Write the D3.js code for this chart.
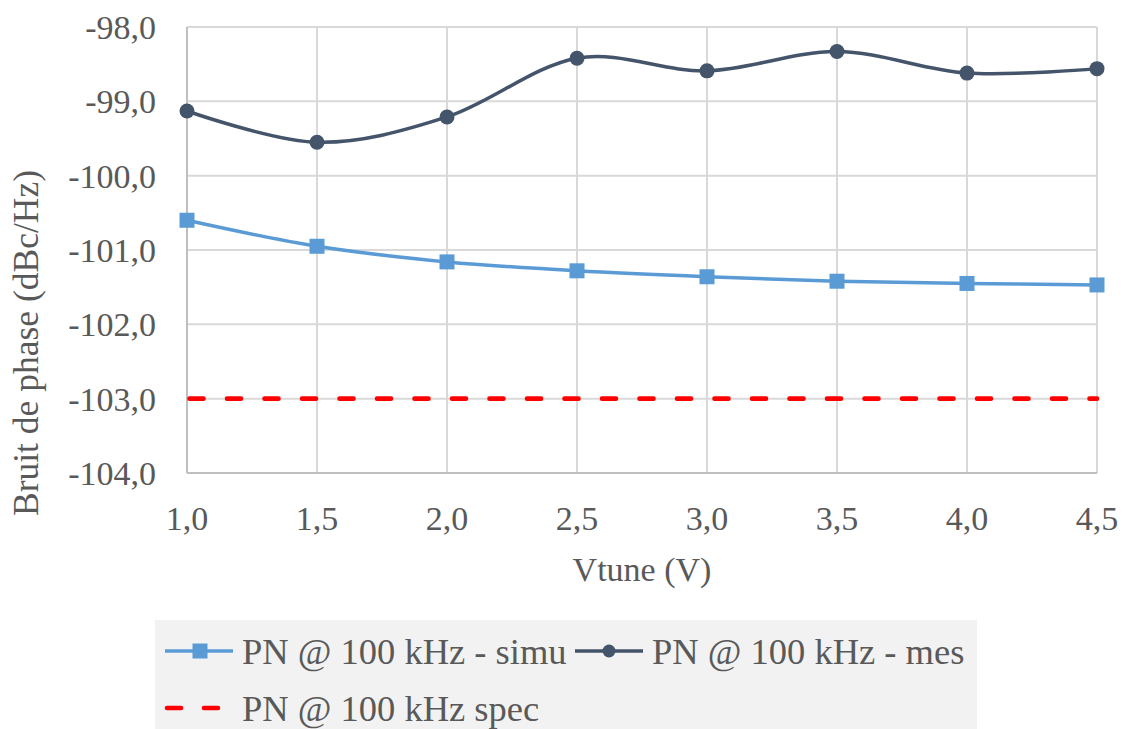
<!DOCTYPE html>
<html><head><meta charset="utf-8">
<script src="https://cdn.jsdelivr.net/npm/d3@7"></script>
<style>body{margin:0;background:#fff}svg{display:block}</style>
</head><body><svg id="c" width="1130" height="729"></svg>
<script>
const vtune = [1.0, 1.5, 2.0, 2.5, 3.0, 3.5, 4.0, 4.5];
const pnSimu = [-100.60, -100.95, -101.16, -101.28, -101.36, -101.42, -101.45, -101.47];
const pnMes = [-99.13, -99.55, -99.21, -98.42, -98.59, -98.33, -98.62, -98.56];
const pnSpec = [-103, -103, -103, -103, -103, -103, -103, -103];
const xTicks = [1.0, 1.5, 2.0, 2.5, 3.0, 3.5, 4.0, 4.5];
const yTicks = [-98, -99, -100, -101, -102, -103, -104];
const seriesNames = ["PN @ 100 kHz - simu", "PN @ 100 kHz - mes", "PN @ 100 kHz spec"];

const FONT = "'Liberation Serif', Tinos, 'Times New Roman', 'DejaVu Serif', serif";
const svg = d3.select("#c");
const L = 187, R = 1097, T = 27, B = 473;
const x = d3.scaleLinear().domain([1.0, 4.5]).range([L, R]);
const y = d3.scaleLinear().domain([-104, -98]).range([B, T]);
const fmt = d => d.toFixed(1).replace(".", ",");
const txt = (sel) => sel.attr("font-family", FONT).attr("fill", "#595959");

// grid
const g = svg.append("g");
g.selectAll(".gx").data(xTicks).join("line")
  .attr("x1", d => x(d)).attr("x2", d => x(d)).attr("y1", T).attr("y2", B)
  .attr("stroke", "#d9d9d9").attr("stroke-width", 2);
g.selectAll(".gy").data(yTicks).join("line")
  .attr("x1", L).attr("x2", R).attr("y1", d => y(d)).attr("y2", d => y(d))
  .attr("stroke", "#d9d9d9").attr("stroke-width", 2);
svg.append("line").attr("x1", L).attr("x2", L).attr("y1", T).attr("y2", B).attr("stroke", "#bfbfbf").attr("stroke-width", 2);
svg.append("line").attr("x1", L).attr("x2", R).attr("y1", B).attr("y2", B).attr("stroke", "#bfbfbf").attr("stroke-width", 2);

// tick labels
svg.selectAll(".yl").data(yTicks).join("text").call(txt)
  .attr("x", 156).attr("y", d => y(d)).attr("dy", "0.35em")
  .attr("text-anchor", "end").attr("font-size", 34).text(fmt);
svg.selectAll(".xl").data(xTicks).join("text").call(txt)
  .attr("x", d => x(d)).attr("y", 518).attr("dy", "0.35em")
  .attr("text-anchor", "middle").attr("font-size", 34).text(fmt);

// axis titles
svg.append("text").call(txt).attr("transform", "translate(26,343) rotate(-90)")
  .attr("dy", "0.35em").attr("text-anchor", "middle").attr("font-size", 35.5).text("Bruit de phase (dBc/Hz)");
svg.append("text").call(txt).attr("x", 642).attr("y", 569).attr("dy", "0.35em")
  .attr("text-anchor", "middle").attr("font-size", 34).text("Vtune (V)");

const line = d3.line().x((d, i) => x(vtune[i])).y(d => y(d)).curve(d3.curveCatmullRom.alpha(0));

// spec
svg.append("path").datum(pnSpec).attr("d", d3.line().x((d, i) => x(vtune[i])).y(d => y(d)))
  .attr("fill", "none").attr("stroke", "#ff0000").attr("stroke-width", 4.6)
  .attr("stroke-dasharray", "14 23.5").attr("stroke-dashoffset", -2.5).attr("stroke-linecap", "round");

// simu
svg.append("path").datum(pnSimu).attr("d", line).attr("fill", "none").attr("stroke", "#5b9bd5").attr("stroke-width", 3.5);
svg.selectAll(".ms").data(pnSimu).join("rect")
  .attr("x", (d, i) => x(vtune[i]) - 7.5).attr("y", d => y(d) - 7.5).attr("width", 15).attr("height", 15).attr("fill", "#5b9bd5");
// mes
svg.append("path").datum(pnMes).attr("d", line).attr("fill", "none").attr("stroke", "#44546a").attr("stroke-width", 3.5);
svg.selectAll(".mc").data(pnMes).join("circle")
  .attr("cx", (d, i) => x(vtune[i])).attr("cy", d => y(d)).attr("r", 7.5).attr("fill", "#44546a");

// legend
const lg = svg.append("g");
lg.append("rect").attr("x", 155).attr("y", 620).attr("width", 822).attr("height", 109).attr("fill", "#f2f2f2");
lg.append("line").attr("x1", 165).attr("x2", 233).attr("y1", 651).attr("y2", 651).attr("stroke", "#5b9bd5").attr("stroke-width", 3.5);
lg.append("rect").attr("x", 192.5).attr("y", 643.5).attr("width", 15).attr("height", 15).attr("fill", "#5b9bd5");
lg.append("text").call(txt).attr("x", 242).attr("y", 651).attr("dy", "0.35em").attr("font-size", 36.5).text(seriesNames[0]);
lg.append("line").attr("x1", 575).attr("x2", 643).attr("y1", 651).attr("y2", 651).attr("stroke", "#44546a").attr("stroke-width", 3.5);
lg.append("circle").attr("cx", 609).attr("cy", 651).attr("r", 6.5).attr("fill", "#44546a");
lg.append("text").call(txt).attr("x", 652).attr("y", 651).attr("dy", "0.35em").attr("font-size", 36.5).text(seriesNames[1]);
lg.append("line").attr("x1", 167).attr("x2", 221).attr("y1", 708).attr("y2", 708).attr("stroke", "#ff0000").attr("stroke-width", 4.6)
  .attr("stroke-dasharray", "14 23").attr("stroke-linecap", "round");
lg.append("text").call(txt).attr("x", 242).attr("y", 708).attr("dy", "0.35em").attr("font-size", 36.5).text(seriesNames[2]);
</script></body></html>
